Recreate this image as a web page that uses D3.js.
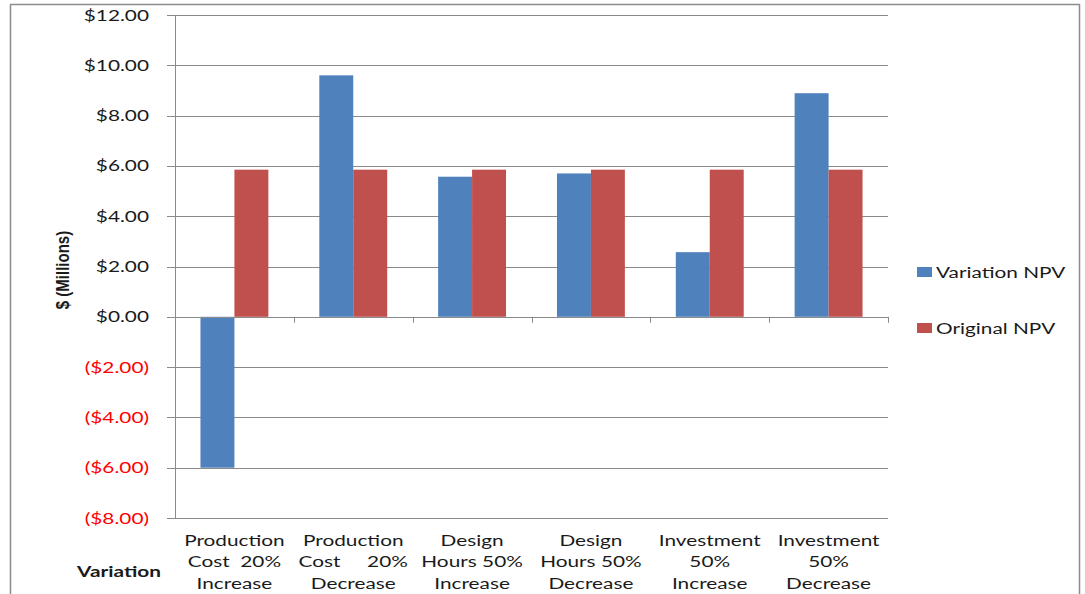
<!DOCTYPE html>
<html><head><meta charset="utf-8">
<script src="https://cdn.jsdelivr.net/npm/d3@7"></script>
<style>body{margin:0;background:#fff}svg{display:block}text{font-family:Lato,"Open Sans",sans-serif}</style>
</head><body><svg id="c" width="1085" height="594"></svg>
<script>
const categories = [
  ["Production","Cost  20%","Increase"],
  ["Production","Cost     20%","Decrease"],
  ["Design","Hours 50%","Increase"],
  ["Design","Hours 50%","Decrease"],
  ["Investment","50%","Increase"],
  ["Investment","50%","Decrease"]
];
const variationNPV = [-6.0, 9.6, 5.57, 5.7, 2.57, 8.89];
const originalNPV = [5.85, 5.85, 5.85, 5.85, 5.85, 5.85];
const seriesNames = ["Variation NPV", "Original NPV"];
const yTicks = [-8, -6, -4, -2, 0, 2, 4, 6, 8, 10, 12];
const colors = ["#4F81BD", "#C0504D"];
const SX = 1.3; // horizontal stretch of text as in the reference

const svg = d3.select("#c");
svg.append("rect").attr("x",10.5).attr("y",4.5).attr("width",1069).attr("height",600)
  .attr("fill","none").attr("stroke","#8c8c8c").attr("stroke-width",1.5);

const L=175, R=888, T=15, B=518;
const y = d3.scaleLinear().domain([-8,12]).range([B,T]);
const x0 = d3.scaleBand().domain(d3.range(categories.length)).range([L,R]).paddingInner(0).paddingOuter(0);
const x1 = d3.scaleBand().domain([0,1]).range([0,x0.bandwidth()]).paddingInner(0).paddingOuter(0.75);

svg.append("g").selectAll("line").data(yTicks).join("line")
  .attr("x1",L-8).attr("x2",R).attr("y1",d=>Math.round(y(d))+0.5).attr("y2",d=>Math.round(y(d))+0.5)
  .attr("stroke","#8a8a8a").attr("stroke-width",1);
svg.append("line").attr("x1",L+0.5).attr("x2",L+0.5).attr("y1",T).attr("y2",B).attr("stroke","#8a8a8a");

const fmt = d => d<0 ? "($"+Math.abs(d).toFixed(2)+")" : "$"+d.toFixed(2);
svg.append("g").selectAll("text").data(yTicks).join("text")
  .attr("transform",d=>`translate(149,${y(d)+5.5}) scale(${SX},1)`).attr("text-anchor","end")
  .attr("font-size",16).attr("fill",d=>d<0?"#FF0000":"#1a1a1a").text(fmt);

const groups = svg.append("g").selectAll("g").data(categories.map((c,i)=>i)).join("g")
  .attr("transform",i=>`translate(${x0(i)},0)`);
groups.selectAll("rect").data(i=>[variationNPV[i],originalNPV[i]]).join("rect")
  .attr("x",(d,j)=>x1(j)).attr("width",x1.bandwidth())
  .attr("y",d=>y(Math.max(0,d))).attr("height",d=>Math.abs(y(d)-y(0)))
  .attr("fill",(d,j)=>colors[j]);

svg.append("line").attr("x1",L).attr("x2",R).attr("y1",Math.round(y(0))+0.5).attr("y2",Math.round(y(0))+0.5).attr("stroke","#8a8a8a");
svg.append("g").selectAll("line").data(d3.range(categories.length+1)).join("line")
  .attr("x1",i=>Math.round(L+i*x0.bandwidth())+0.5).attr("x2",i=>Math.round(L+i*x0.bandwidth())+0.5)
  .attr("y1",y(0)).attr("y2",y(0)+6).attr("stroke","#8a8a8a");

const cl = svg.append("g").selectAll("text").data(categories).join("text")
  .attr("transform",(c,i)=>`translate(${x0(i)+x0.bandwidth()/2},546) scale(${SX},1)`)
  .attr("text-anchor","middle").attr("font-size",16).attr("fill","#1a1a1a")
  .attr("xml:space","preserve").style("white-space","pre");
cl.each(function(c){
  const t=d3.select(this);
  c.forEach((line,k)=>t.append("tspan").attr("x",0).attr("y",k*21.5).text(line));
});

svg.append("text").attr("transform",`translate(119,577) scale(${SX},1)`).attr("text-anchor","middle")
  .attr("font-size",16).attr("font-weight","bold").attr("fill","#1a1a1a").text("Variation");
svg.append("text").attr("transform","translate(69,270) rotate(-90) scale(1,1.25)").attr("text-anchor","middle")
  .attr("font-size",15).attr("font-weight","bold").attr("fill","#1a1a1a")
  .style("font-family","'Liberation Sans Narrow','Liberation Sans',sans-serif").text("$ (Millions)");

const lg = svg.append("g").selectAll("g").data(seriesNames).join("g")
  .attr("transform",(d,i)=>`translate(917,${267+i*56})`);
lg.append("rect").attr("width",15).attr("height",10).attr("fill",(d,i)=>colors[i]);
lg.append("text").attr("transform",`translate(19,11) scale(${SX},1)`).attr("font-size",16).attr("fill","#1a1a1a").text(d=>d);
</script></body></html>
